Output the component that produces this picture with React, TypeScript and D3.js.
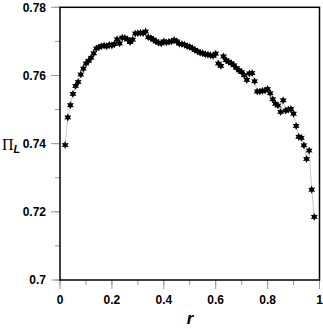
import React, { useRef, useEffect } from "react";
import * as d3 from "d3";

// r values and Pi_L readings, one every 0.01
const rValues = d3.range(2, 99).map((i) => i / 100);
const piL = [
  0.7396, 0.7477, 0.7513, 0.7546, 0.7569, 0.7581, 0.7603, 0.762, 0.7635, 0.7643,
  0.7652, 0.7665, 0.7679, 0.7683, 0.7686, 0.7688, 0.7685, 0.769, 0.7688, 0.7692,
  0.7706, 0.7694, 0.7711, 0.771, 0.7706, 0.7698, 0.7705, 0.7723, 0.7724, 0.7725,
  0.7724, 0.7729, 0.7712, 0.771, 0.7705, 0.77, 0.7696, 0.7694, 0.77, 0.7697,
  0.7699, 0.77, 0.7704, 0.77, 0.7693, 0.7692, 0.769, 0.7686, 0.7684, 0.768,
  0.7675, 0.7671, 0.7667, 0.7665, 0.7662, 0.7661, 0.7659, 0.7657, 0.7664, 0.7635,
  0.7628, 0.7656, 0.7645, 0.764, 0.7636, 0.763, 0.7622, 0.7615, 0.761, 0.7601,
  0.7587, 0.7606, 0.7607, 0.7583, 0.7553, 0.7553, 0.7555, 0.7556, 0.756, 0.7548,
  0.753, 0.7517, 0.7512, 0.7493, 0.7527, 0.7497, 0.75, 0.7502, 0.7488, 0.7452,
  0.742, 0.7417, 0.7395, 0.7355, 0.738, 0.7265, 0.7185,
];
const xTicks = [0, 0.2, 0.4, 0.6, 0.8, 1];
const xTickLabels = ["0", "0.2", "0.4", "0.6", "0.8", "1"];
const yTicks = [0.7, 0.72, 0.74, 0.76, 0.78];
const yTickLabels = ["0.7", "0.72", "0.74", "0.76", "0.78"];

// six-pointed filled star
function starPath(ro: number, ri: number) {
  const pts: [number, number][] = [];
  for (let i = 0; i < 12; i++) {
    const a = (Math.PI / 6) * i - Math.PI / 2;
    const r = i % 2 === 0 ? ro : ri;
    pts.push([r * Math.cos(a), r * Math.sin(a)]);
  }
  return "M" + pts.map((p) => p.join(",")).join("L") + "Z";
}

export default function App() {
  const svgRef = useRef<SVGSVGElement>(null);
  const width = 323;
  const height = 329;

  useEffect(() => {
    const svg = d3.select(svgRef.current);
    svg.selectAll("*").remove();

    const left = 60, right = 319.5, top = 7.3, bottom = 280;
    const x = d3.scaleLinear().domain([0, 1]).range([left, right]);
    const y = d3.scaleLinear().domain([0.7, 0.78]).range([bottom, top]);
    const font = "Arial, 'Liberation Sans', sans-serif";

    // minor ticks
    const minorX = d3.range(0, 1.001, 0.1);
    const minorY = d3.range(0.7, 0.7801, 0.01);
    svg.append("g").selectAll("line").data(minorX).join("line")
      .attr("x1", (d) => x(d)).attr("x2", (d) => x(d))
      .attr("y1", bottom).attr("y2", bottom + 5)
      .attr("stroke", "#999").attr("stroke-width", 1);
    svg.append("g").selectAll("line").data(minorY).join("line")
      .attr("x1", left - 5).attr("x2", left)
      .attr("y1", (d) => y(d)).attr("y2", (d) => y(d))
      .attr("stroke", "#999").attr("stroke-width", 1);

    // major ticks
    svg.append("g").selectAll("line").data(xTicks).join("line")
      .attr("x1", (d) => x(d)).attr("x2", (d) => x(d))
      .attr("y1", bottom).attr("y2", bottom + 9)
      .attr("stroke", "#999").attr("stroke-width", 1);
    svg.append("g").selectAll("line").data(yTicks).join("line")
      .attr("x1", left - 9).attr("x2", left)
      .attr("y1", (d) => y(d)).attr("y2", (d) => y(d))
      .attr("stroke", "#999").attr("stroke-width", 1);

    // tick labels
    svg.append("g").selectAll("text").data(xTicks).join("text")
      .attr("x", (d) => x(d)).attr("y", 304)
      .attr("text-anchor", "middle")
      .attr("font-family", font).attr("font-size", "12px").attr("font-weight", "700")
      .text((d, i) => xTickLabels[i]);
    svg.append("g").selectAll("text").data(yTicks).join("text")
      .attr("x", 46).attr("y", (d) => y(d) + 4.3)
      .attr("text-anchor", "end")
      .attr("font-family", font).attr("font-size", "12px").attr("font-weight", "700")
      .text((d, i) => yTickLabels[i]);

    // frame
    svg.append("rect")
      .attr("x", left).attr("y", top)
      .attr("width", right - left).attr("height", bottom - top)
      .attr("fill", "none").attr("stroke", "#000").attr("stroke-width", 1.5);

    // connecting line
    const line = d3.line<number>()
      .x((d, i) => x(rValues[i]))
      .y((d) => y(d));
    svg.append("path")
      .datum(piL)
      .attr("d", line)
      .attr("fill", "none")
      .attr("stroke", "#c8c8c8")
      .attr("stroke-width", 1);

    // star markers
    const star = starPath(4, 2.1);
    svg.append("g").selectAll("path").data(piL).join("path")
      .attr("d", star)
      .attr("transform", (d, i) => `translate(${x(rValues[i])},${y(d)})`)
      .attr("fill", "#000");

    // axis titles
    svg.append("text")
      .attr("x", 190).attr("y", 324)
      .attr("text-anchor", "middle")
      .attr("font-family", font).attr("font-size", "17px")
      .attr("font-weight", "700").attr("font-style", "italic")
      .text("r");

    const yt = svg.append("text")
      .attr("x", 2).attr("y", 150);
    yt.append("tspan")
      .attr("font-family", "'Liberation Serif', 'Times New Roman', serif")
      .attr("font-size", "16px")
      .text("Π");
    yt.append("tspan")
      .attr("dy", 3)
      .attr("font-family", font).attr("font-size", "11px")
      .attr("font-weight", "700").attr("font-style", "italic")
      .text("L");
  }, []);

  return (
    <svg
      ref={svgRef}
      width={width}
      height={height}
      style={{ position: "absolute", left: 0, top: 0, background: "#fff" }}
    />
  );
}
